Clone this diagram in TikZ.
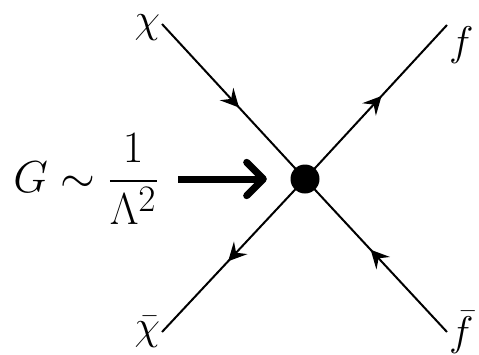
\documentclass[tikz,border=0pt]{standalone}
\usepackage{amsmath}
\usetikzlibrary{arrows.meta,decorations.markings}
\tikzset{
  leg/.style={line width=1.2pt,postaction={decorate},
    decoration={markings,mark=at position 0.54 with {\arrow{Stealth[length=11pt,width=11pt,inset=4pt]}}}},
  lbl/.style={font=\Huge,inner sep=1pt},
}
\begin{document}
\begin{tikzpicture}[x=0.6pt,y=-0.6pt]
  \useasboundingbox (0,0) rectangle (479,354);
  \node[circle,fill,minimum size=17.4pt,inner sep=0pt] (v) at (305,179) {};
  \coordinate (chi) at (162,24);
  \coordinate (f) at (447,25);
  \coordinate (chibar) at (162,332);
  \coordinate (fbar) at (447,332);
  \draw[leg] (chi) -- (v.center);
  \draw[leg] (v.center) -- (f);
  \draw[leg] (v.center) -- (chibar);
  \draw[leg] (fbar) -- (v.center);
  \node[lbl,anchor=east] (chil) at ([yshift=-2pt]chi) {$\chi$};
  \node[lbl,anchor=north west] (fl) at (f) {$f$};
  \node[lbl,anchor=east] (chibarl) at (chibar) {$\bar{\chi}$};
  \node[lbl,anchor=west] (fbarl) at (fbar) {$\bar{f}$};
  \node[font=\Huge,scale=1.08] (coupling) at (86,179) {$G\sim\dfrac{1}{\Lambda^2}$};
  \draw[line width=4.2pt,-{Straight Barb[length=10pt,width=20pt,round]},shorten <=8pt,shorten >=14pt] (coupling) -- (v);
\end{tikzpicture}
\end{document}
